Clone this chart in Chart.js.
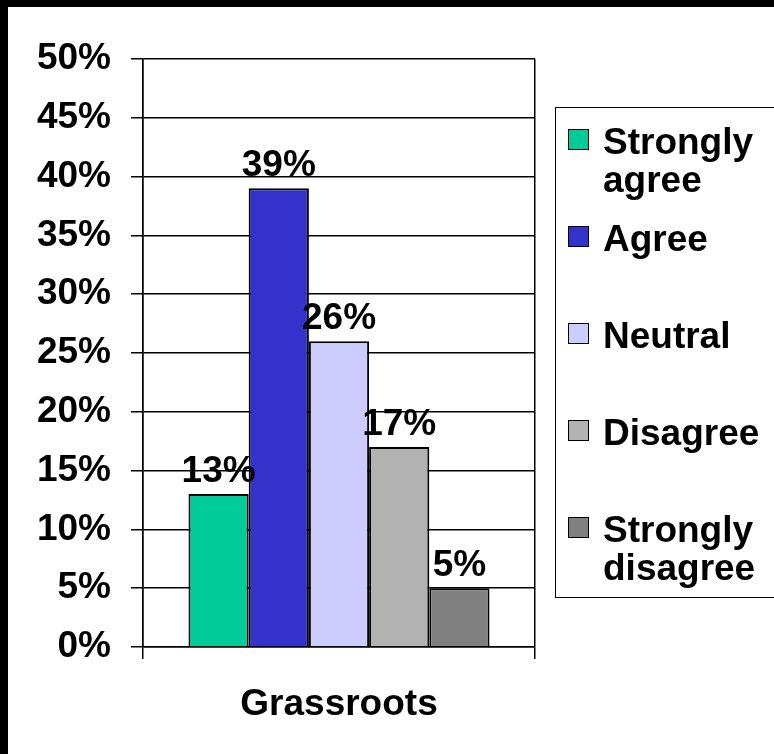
<!DOCTYPE html>
<html lang="en">
<head>
  <meta charset="UTF-8">
  <title>Grassroots</title>
  <style>
    html, body { margin: 0; padding: 0; background: #000; overflow: hidden; width: 774px; height: 754px; }
    #quadro { position: absolute; left: 8px; top: 7px; width: 766px; height: 747px; background: #fff; }
    #grafico { position: absolute; left: 0; top: 0; }
    #legenda { position: absolute; left: 547px; top: 100px; width: 260px; height: 491px; border: 1.5px solid #000; box-sizing: border-box; padding-top: 15px;
      font-family: 'Liberation Sans', Arial, sans-serif; font-weight: bold; font-size: 37px; line-height: 38px; color: #000; }
    .item { position: relative; height: 97px; }
    .quad { position: absolute; left: 12px; top: 6px; width: 21px; height: 21px; border: 1.5px solid #000; box-sizing: border-box; }
    .txt { position: absolute; left: 47px; top: 0; width: 175px; }
  </style>
</head>
<body>
  <div id="quadro">
    <canvas id="grafico" width="766" height="747"></canvas>
    <div id="legenda"></div>
  </div>
  <script src="https://cdn.jsdelivr.net/npm/chart.js"></script>
  <script>
    // dados
    const categorias = ['Grassroots'];
    const respostas = ['Strongly agree', 'Agree', 'Neutral', 'Disagree', 'Strongly disagree'];
    const valores = [13, 39, 26, 17, 5];
    const cores = ['#00cc99', '#3333cc', '#ccccff', '#b2b2b2', '#808080'];
    const ticksY = [0, 5, 10, 15, 20, 25, 30, 35, 40, 45, 50];

    const FONTE = "'Liberation Sans', Arial, sans-serif";

    // rotulos em cima das barras
    const rotulos = {
      id: 'rotulos',
      afterDatasetsDraw(chart) {
        const ctx = chart.ctx;
        ctx.save();
        ctx.font = 'bold 37px ' + FONTE;
        ctx.fillStyle = '#000';
        ctx.textAlign = 'center';
        ctx.textBaseline = 'alphabetic';
        chart.data.datasets.forEach((ds, i) => {
          const bar = chart.getDatasetMeta(i).data[0];
          ctx.fillText(ds.data[0] + '%', bar.x, bar.y - 12);
        });
        ctx.restore();
      }
    };

    new Chart(document.getElementById('grafico'), {
      type: 'bar',
      data: {
        labels: categorias,
        datasets: respostas.map((r, i) => ({
          label: r,
          data: [valores[i]],
          backgroundColor: cores[i],
          borderColor: '#000',
          borderWidth: 2,
          categoryPercentage: 0.768,
          barPercentage: 1
        }))
      },
      options: {
        responsive: false,
        animation: false,
        events: [],
        layout: { padding: { top: 52, right: 239, bottom: 0, left: 0 } },
        plugins: { legend: { display: false }, tooltip: { enabled: false } },
        scales: {
          x: {
            afterFit: s => { s.height = 107; },
            grid: { display: true, offset: true, color: '#000', lineWidth: 1.5, tickLength: 12, drawOnChartArea: true },
            border: { display: true, color: '#000', width: 1.5 },
            ticks: { color: '#000', padding: 24, font: { family: FONTE, size: 37, weight: 'bold' } }
          },
          y: {
            min: 0,
            max: 50,
            afterFit: s => { s.width = 135; },
            afterBuildTicks: s => { s.ticks = ticksY.map(v => ({ value: v })); },
            grid: { color: '#000', lineWidth: 1.5, tickLength: 12 },
            border: { display: true, color: '#000', width: 1.5 },
            ticks: { color: '#000', padding: 20, callback: v => v + '%', font: { family: FONTE, size: 37, weight: 'bold' } }
          }
        }
      },
      plugins: [rotulos]
    });

    // legenda em html
    document.getElementById('legenda').innerHTML = respostas.map((r, i) =>
      `<div class="item"><span class="quad" style="background:${cores[i]}"></span><span class="txt">${r}</span></div>`
    ).join('');
  </script>
</body>
</html>
